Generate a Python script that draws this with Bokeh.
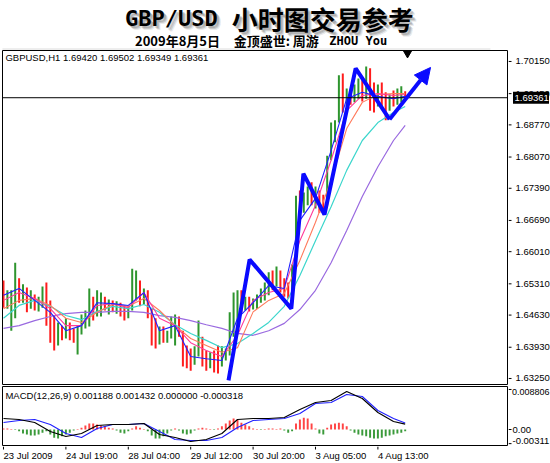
from bokeh.plotting import figure
from bokeh.layouts import column, row
from bokeh.models import Range1d, Span, Arrow, NormalHead, ColumnDataSource, Label
from bokeh.core.properties import value
from bokeh.embed import file_html
from bokeh.resources import INLINE

# ---------------- data (2-hour bars) ----------------
opens = [1.6527, 1.6490, 1.6456, 1.6484, 1.6534, 1.6503, 1.6517, 1.6486, 1.6501, 1.6484,
         1.6490, 1.6517, 1.6460, 1.6425, 1.6412, 1.6429, 1.6416, 1.6438, 1.6423, 1.6408,
         1.6429, 1.6451, 1.6464, 1.6499, 1.6469, 1.6477, 1.6499, 1.6477, 1.6490, 1.6475,
         1.6486, 1.6473, 1.6460, 1.6482, 1.6525, 1.6534, 1.6499, 1.6508, 1.6469, 1.6421,
         1.6408, 1.6429, 1.6412, 1.6416, 1.6429, 1.6451, 1.6421, 1.6373, 1.6364, 1.6360,
         1.6382, 1.6408, 1.6373, 1.6355, 1.6373, 1.6368, 1.6355, 1.6373, 1.6386, 1.6451,
         1.6495, 1.6508, 1.6482, 1.6495, 1.6482, 1.6490, 1.6499, 1.6512, 1.6521, 1.6547,
         1.6530, 1.6551, 1.6530, 1.6521, 1.6512, 1.6564, 1.6712, 1.6691, 1.6712, 1.6739,
         1.6708, 1.6725, 1.6704, 1.6704, 1.6804, 1.6852, 1.6887, 1.6974, 1.6926, 1.6943,
         1.6930, 1.6943, 1.6965, 1.6939, 1.6982, 1.6934, 1.6921, 1.6952, 1.6930, 1.6913,
         1.6939, 1.6926, 1.6934, 1.69420]
highs = [1.6538, 1.6517, 1.6517, 1.6577, 1.6543, 1.6530, 1.6523, 1.6517, 1.6508, 1.6503,
         1.6525, 1.6534, 1.6495, 1.6462, 1.6447, 1.6440, 1.6456, 1.6447, 1.6434, 1.6440,
         1.6464, 1.6473, 1.6521, 1.6503, 1.6517, 1.6512, 1.6503, 1.6497, 1.6495, 1.6493,
         1.6490, 1.6484, 1.6482, 1.6564, 1.6560, 1.6538, 1.6521, 1.6517, 1.6477, 1.6456,
         1.6438, 1.6438, 1.6429, 1.6460, 1.6464, 1.6460, 1.6429, 1.6397, 1.6390, 1.6395,
         1.6451, 1.6416, 1.6386, 1.6382, 1.6386, 1.6397, 1.6395, 1.6390, 1.6469, 1.6512,
         1.6517, 1.6517, 1.6503, 1.6503, 1.6499, 1.6508, 1.6521, 1.6534, 1.6556, 1.6560,
         1.6569, 1.6560, 1.6543, 1.6534, 1.6573, 1.6723, 1.6734, 1.6730, 1.6743, 1.6752,
         1.6743, 1.6734, 1.6725, 1.6810, 1.6882, 1.6887, 1.6985, 1.6989, 1.6956, 1.6952,
         1.6965, 1.6978, 1.6974, 1.7004, 1.7000, 1.6969, 1.6965, 1.6969, 1.6948, 1.6943,
         1.6952, 1.6956, 1.6961, 1.69502]
lows = [1.6479, 1.6477, 1.6429, 1.6456, 1.6490, 1.6490, 1.6469, 1.6477, 1.6473, 1.6471,
        1.6479, 1.6440, 1.6403, 1.6386, 1.6397, 1.6408, 1.6412, 1.6408, 1.6403, 1.6377,
        1.6421, 1.6434, 1.6438, 1.6451, 1.6460, 1.6460, 1.6473, 1.6464, 1.6469, 1.6466,
        1.6460, 1.6451, 1.6456, 1.6473, 1.6495, 1.6482, 1.6486, 1.6456, 1.6397, 1.6390,
        1.6399, 1.6403, 1.6403, 1.6412, 1.6397, 1.6416, 1.6351, 1.6347, 1.6342, 1.6355,
        1.6373, 1.6351, 1.6342, 1.6347, 1.6338, 1.6336, 1.6351, 1.6364, 1.6375, 1.6416,
        1.6438, 1.6469, 1.6473, 1.6471, 1.6475, 1.6477, 1.6490, 1.6495, 1.6506, 1.6517,
        1.6525, 1.6512, 1.6503, 1.6499, 1.6508, 1.6564, 1.6673, 1.6686, 1.6702, 1.6702,
        1.6695, 1.6686, 1.6682, 1.6702, 1.6800, 1.6839, 1.6882, 1.6904, 1.6917, 1.6921,
        1.6926, 1.6934, 1.6928, 1.6934, 1.6908, 1.6904, 1.6917, 1.6913, 1.6887, 1.6908,
        1.6917, 1.6921, 1.6926, 1.69349]
closes = [1.6495, 1.6510, 1.6503, 1.6538, 1.6503, 1.6521, 1.6484, 1.6503, 1.6484, 1.6495,
          1.6512, 1.6456, 1.6425, 1.6412, 1.6429, 1.6416, 1.6438, 1.6421, 1.6412, 1.6429,
          1.6456, 1.6464, 1.6503, 1.6469, 1.6499, 1.6499, 1.6482, 1.6490, 1.6477, 1.6486,
          1.6469, 1.6460, 1.6477, 1.6527, 1.6543, 1.6499, 1.6512, 1.6469, 1.6416, 1.6403,
          1.6429, 1.6412, 1.6421, 1.6447, 1.6456, 1.6425, 1.6373, 1.6360, 1.6355, 1.6382,
          1.6412, 1.6368, 1.6355, 1.6373, 1.6351, 1.6347, 1.6382, 1.6386, 1.6451, 1.6495,
          1.6503, 1.6482, 1.6495, 1.6482, 1.6495, 1.6503, 1.6517, 1.6525, 1.6543, 1.6530,
          1.6556, 1.6525, 1.6517, 1.6512, 1.6560, 1.6702, 1.6686, 1.6717, 1.6734, 1.6717,
          1.6730, 1.6699, 1.6695, 1.6800, 1.6865, 1.6878, 1.6941, 1.6919, 1.6948, 1.6930,
          1.6956, 1.6965, 1.6939, 1.6978, 1.6930, 1.6917, 1.6948, 1.6926, 1.6908, 1.6934,
          1.6926, 1.6943, 1.6948, 1.69361]

# moving averages, sampled every 4 bars
ma_idx = [0, 4, 8, 12, 16, 20, 24, 28, 32, 36, 40, 44, 48, 52, 56, 60, 64, 68, 72, 76,
          80, 84, 88, 92, 96, 100, 103]
ma_purple = [1.6434, 1.6440, 1.6451, 1.6460, 1.6466, 1.6469, 1.6469, 1.6471, 1.6471, 1.6469,
             1.6462, 1.6458, 1.6451, 1.6442, 1.6434, 1.6423, 1.6419, 1.6429, 1.6445, 1.6475,
             1.6517, 1.6577, 1.6647, 1.6721, 1.6786, 1.6843, 1.6876]
ma_cyan = [1.6456, 1.6484, 1.6495, 1.6482, 1.6462, 1.6453, 1.6471, 1.6482, 1.6477, 1.6486,
           1.6469, 1.6442, 1.6423, 1.6408, 1.6392, 1.6401, 1.6423, 1.6447, 1.6482, 1.6549,
           1.6625, 1.6699, 1.6778, 1.6843, 1.6882, 1.6904, 1.6917]
ma_salmon = [1.6477, 1.6495, 1.6499, 1.6484, 1.6456, 1.6447, 1.6469, 1.6486, 1.6482, 1.6499,
             1.6473, 1.6440, 1.6412, 1.6397, 1.6382, 1.6392, 1.6470, 1.6495, 1.6510, 1.6582,
             1.6665, 1.6756, 1.6869, 1.6926, 1.6943, 1.6945, 1.6945]
ma_pink = [1.6495, 1.6512, 1.6499, 1.6477, 1.6440, 1.6440, 1.6484, 1.6488, 1.6479, 1.6512,
           1.6456, 1.6440, 1.6403, 1.6386, 1.6373, 1.6419, 1.6495, 1.6512, 1.6521, 1.6625,
           1.6702, 1.6800, 1.6908, 1.6941, 1.6945, 1.6941, 1.6943]
ma_blue = [1.6506, 1.6521, 1.6495, 1.6469, 1.6429, 1.6440, 1.6490, 1.6488, 1.6484, 1.6512,
           1.6429, 1.6440, 1.6373, 1.6368, 1.6364, 1.6456, 1.6490, 1.6527, 1.6521, 1.6669,
           1.6717, 1.6821, 1.6934, 1.6948, 1.6939, 1.6934, 1.6939]

# hand-drawn zigzag (bar index, price)
zz_idx = [57.7, 63.1, 73.8, 76.9, 82.3, 90.3, 99.0, 109.5]
zz_price = [1.6321, 1.6584, 1.6477, 1.6771, 1.6682, 1.7000, 1.6889, 1.7002]

# MACD(12,26,9)
macd_main = [0.00242, 0.0022, 0.00154, -0.00044, -0.00154, -0.00088, 0.00088, 0.0011, 0.0011, 0.00132,
             -0.0011, -0.00176, -0.00264, -0.0022, -0.00088, 0.0022, 0.00242, 0.00242, 0.00264, 0.0044,
             0.00594, 0.00638, 0.00836, 0.00682, 0.00374, 0.00176, 0.001188]
macd_signal = [0.00154, 0.00198, 0.0022, 0.0011, -0.00088, -0.00176, 0.00022, 0.0011, 0.0011, 0.00132,
               -0.00044, -0.0022, -0.00242, -0.00242, -0.00176, 0.00044, 0.00198, 0.0022, 0.00242, 0.00352,
               0.00572, 0.00594, 0.0077, 0.00726, 0.00418, 0.00242, 0.001432]
macd_hist = [0.0002, 0.0002, 0.0001, -0.0001, -0.0004, -0.0009, -0.0011, -0.0013, -0.0013, -0.0011,
             -0.0007, -0.0004, -0.0011, -0.0018, -0.0020, -0.0015, -0.0011, -0.0007, -0.0002, 0.0001,
             0.0004, 0.0009, 0.0013, 0.0013, 0.0011, 0.0009, 0.0007, 0.0004, 0.0002, -0.0002,
             -0.0007, -0.0009, -0.0004, 0.0002, 0.0007, 0.0004, 0.0001, -0.0004, -0.0013, -0.0020,
             -0.0020, -0.0015, -0.0009, -0.0002, 0.0002, -0.0002, -0.0009, -0.0011, -0.0009, -0.0002,
             0.0002, 0.0004, 0.0002, 0.0001, -0.0001, 0.0002, 0.0007, 0.0013, 0.0020, 0.0024,
             0.0022, 0.0015, 0.0011, 0.0007, 0.0002, 0.0001, -0.0001, 0.0001, 0.0002, 0.0002,
             0.0001, 0.0002, -0.0002, -0.0007, -0.0004, 0.0013, 0.0022, 0.0026, 0.0024, 0.0013,
             0.0002, -0.0009, -0.0011, 0.0004, 0.0011, 0.0013, 0.0015, 0.0013, 0.0007, -0.0002,
             -0.0007, -0.0011, -0.0013, -0.0015, -0.0018, -0.0020, -0.0020, -0.0018, -0.0015, -0.0013,
             -0.0011, -0.0009, -0.0007, -0.0004]

price_ticks = [1.63250, 1.63930, 1.64630, 1.65310, 1.66010, 1.66690, 1.67390, 1.68070,
               1.68770, 1.69450, 1.70150]
price_tick_labels = ["1.63250", "1.63930", "1.64630", "1.65310", "1.66010", "1.66690",
                     "1.67390", "1.68070", "1.68770", "1.69450", "1.70150"]
macd_max, macd_zero, macd_min = 0.008806, 0.0, -0.00311
macd_max_label, macd_zero_label, macd_min_label = "0.008806", "0.00", "-0.00311"
time_tick_idx = [0, 16, 32, 48, 64, 80, 96]
time_tick_labels = ["23 Jul 2009", "24 Jul 19:00", "28 Jul 04:00", "29 Jul 12:00",
                    "30 Jul 20:00", "3 Aug 05:00", "4 Aug 13:00"]
last_price = 1.69361
last_price_label = "1.69361"

FONT = "Liberation Sans"
FS = "9.5px"
GREEN = "#2e952e"
RED = "#ff1c1c"


def bare(fig):
    fig.grid.visible = False
    fig.outline_line_color = None
    return fig


# ---------------- header ----------------
hdr = bare(figure(width=550, height=50, x_range=Range1d(0, 550), y_range=Range1d(50, 0),
                  toolbar_location=None, output_backend="svg", min_border=0,
                  x_axis_location=None, y_axis_location=None))
for dx, a in [(4, 0.15), (3, 0.25), (2, 0.3)]:
    hdr.text(x=[123 + dx], y=[18 + dx], text=["GBP/USD"], text_font=value("DejaVu Sans Mono"),
             text_font_style="bold", text_font_size="22px", text_baseline="middle",
             text_color="#666666", text_alpha=a)
    hdr.text(x=[230 + dx], y=[18 + dx], text=["小时图交易参考"], text_font=value("Noto Sans CJK SC"),
             text_font_style="bold", text_font_size="26px", text_baseline="middle",
             text_color="#666666", text_alpha=a)
hdr.text(x=[123], y=[18], text=["GBP/USD"], text_font=value("DejaVu Sans Mono"),
         text_font_style="bold", text_font_size="22px", text_baseline="middle", text_color="black")
hdr.text(x=[230], y=[18], text=["小时图交易参考"], text_font=value("Noto Sans CJK SC"),
         text_font_style="bold", text_font_size="26px", text_baseline="middle", text_color="black")
hdr.text(x=[133], y=[40], text=["2009年8月5日"], text_font=value("Noto Sans CJK SC"),
         text_font_style="bold", text_font_size="13px", text_baseline="middle", text_color="black")
hdr.text(x=[232], y=[40], text=["金顶盛世:  周游"], text_font=value("Noto Sans CJK SC"),
         text_font_style="bold", text_font_size="13px", text_baseline="middle", text_color="black")
hdr.text(x=[328], y=[40], text=["ZHOU You"], text_font=value("DejaVu Sans Mono"),
         text_font_style="bold", text_font_size="12px", text_baseline="middle", text_color="black")
hdr.segment(x0=[0], y0=[48.5], x1=[490], y1=[48.5], line_color="#b8b8b8", line_dash="1 1")

# ---------------- main price chart ----------------
xr = Range1d(-0.256, 129.49)
yr = Range1d(1.63119, 1.70389)
p = figure(frame_width=506, frame_height=334, x_range=xr, y_range=yr,
           toolbar_location=None, output_backend="svg", x_axis_location=None,
           y_axis_location=None, min_border_left=2, min_border_top=0,
           min_border_bottom=2, min_border_right=0)
p.grid.visible = False
p.outline_line_color = "black"
p.outline_line_width = 1

idx = list(range(len(closes)))
colors = [GREEN if c >= o else RED for o, c in zip(opens, closes)]
src = ColumnDataSource(dict(x=idx, o=opens, h=highs, l=lows, c=closes, color=colors))
p.segment(x0="x", y0="l", x1="x", y1="h", line_color="color", line_width=2, source=src)

p.line(ma_idx, ma_purple, line_color="#9a6ae0", line_width=1.2)
p.line(ma_idx, ma_cyan, line_color="#3cd6cc", line_width=1.2)
p.line(ma_idx, ma_salmon, line_color="#ff7a5c", line_width=1.1)
p.line(ma_idx, ma_pink, line_color="#ff3c9a", line_width=1.1)
p.line(ma_idx, ma_blue, line_color="#2020ff", line_width=1.1)

p.add_layout(Span(location=last_price, dimension="width", line_color="black", line_width=1))

zz_col = "#0a0aff"
p.line(zz_idx[:-1], zz_price[:-1], line_color=zz_col, line_width=4)
p.add_layout(Arrow(end=NormalHead(size=16, fill_color=zz_col, line_color=zz_col),
                   x_start=zz_idx[-2], y_start=zz_price[-2], x_end=zz_idx[-1], y_end=zz_price[-1],
                   line_color=zz_col, line_width=4))

p.scatter([103.6], [1.7034], marker="inverted_triangle", size=9, color="black")

p.add_layout(Label(x=0.5, y=1.70237, text="GBPUSD,H1  1.69420 1.69502 1.69349 1.69361",
                   text_font=FONT, text_font_size=FS, text_baseline="middle", text_color="black"))

# price scale (right side)
pl = bare(figure(frame_width=42, frame_height=334, x_range=Range1d(0, 42), y_range=yr,
                 toolbar_location=None, output_backend="svg", x_axis_location=None,
                 y_axis_location=None, min_border_left=0, min_border_right=0,
                 min_border_top=0, min_border_bottom=2))
pl.segment(x0=[0] * len(price_ticks), y0=price_ticks, x1=[3] * len(price_ticks), y1=price_ticks,
           line_color="black", line_width=1)
pl.text(x=[7] * len(price_ticks), y=price_ticks, text=price_tick_labels, text_font=value(FONT),
        text_font_size=FS, text_baseline="middle", text_align="left", text_color="black")
pl.rect(x=[22.5], y=[last_price], width=36, height=12, height_units="screen",
        fill_color="black", line_color=None)
pl.text(x=[6], y=[last_price], text=[last_price_label], text_font=value(FONT),
        text_font_size=FS, text_baseline="middle", text_align="left", text_color="white")

# ---------------- MACD panel ----------------
myr = Range1d(-0.00374, 0.00946)
m = figure(frame_width=506, frame_height=60, x_range=xr, y_range=myr,
           toolbar_location=None, output_backend="svg", x_axis_location=None,
           y_axis_location=None, min_border_left=2, min_border_top=0,
           min_border_bottom=0, min_border_right=0)
m.grid.visible = False
m.outline_line_color = "black"

hcolors = ["#ff4444" if v >= 0 else "#3a9a3a" for v in macd_hist]
hsrc = ColumnDataSource(dict(x=idx, top=macd_hist, color=hcolors))
m.vbar(x="x", top="top", bottom=0, width=0.5, fill_color="color", line_color=None, source=hsrc)
m.line(ma_idx, macd_signal, line_color="#2020ff", line_width=1.1)
m.line(ma_idx, macd_main, line_color="black", line_width=1.1)
m.add_layout(Label(x=0.5, y=0.00748, text="MACD(12,26,9) 0.001188 0.001432 0.000000 -0.000318",
                   text_font=FONT, text_font_size=FS, text_baseline="middle", text_color="black"))

ml = bare(figure(frame_width=42, frame_height=60, x_range=Range1d(0, 42), y_range=myr,
                 toolbar_location=None, output_backend="svg", x_axis_location=None,
                 y_axis_location=None, min_border=0))
ml.segment(x0=[0, 0, 0], y0=[macd_max, macd_zero, macd_min], x1=[3, 3, 3],
           y1=[macd_max, macd_zero, macd_min], line_color="black", line_width=1)
ml.text(x=[3.5], y=[macd_max], text=[macd_max_label], text_font=value(FONT),
        text_font_size="9px", text_baseline="top", text_align="left", text_color="black")
ml.text(x=[4], y=[macd_zero], text=[macd_zero_label], text_font=value(FONT),
        text_font_size=FS, text_baseline="middle", text_align="left", text_color="black")
ml.text(x=[4], y=[macd_min], text=[macd_min_label], text_font=value(FONT),
        text_font_size=FS, text_baseline="bottom", text_align="left", text_color="black")

# ---------------- time labels ----------------
xl = bare(figure(frame_width=506, frame_height=17, x_range=xr, y_range=Range1d(17, 0),
                 toolbar_location=None, output_backend="svg", x_axis_location=None,
                 y_axis_location=None, min_border_left=2, min_border_right=0,
                 min_border_top=0, min_border_bottom=0))
xl.segment(x0=time_tick_idx, y0=[0] * len(time_tick_idx), x1=time_tick_idx,
           y1=[3] * len(time_tick_idx), line_color="black", line_width=1)
xl.text(x=time_tick_idx, y=[3] * len(time_tick_idx), text=time_tick_labels,
        text_font=value(FONT), text_font_size=FS, text_baseline="top", text_align="left",
        text_color="black")

layout = column(hdr, row(p, pl, spacing=0), row(m, ml, spacing=0), xl, spacing=0)
open("out.html", "w").write(file_html(layout, INLINE))
